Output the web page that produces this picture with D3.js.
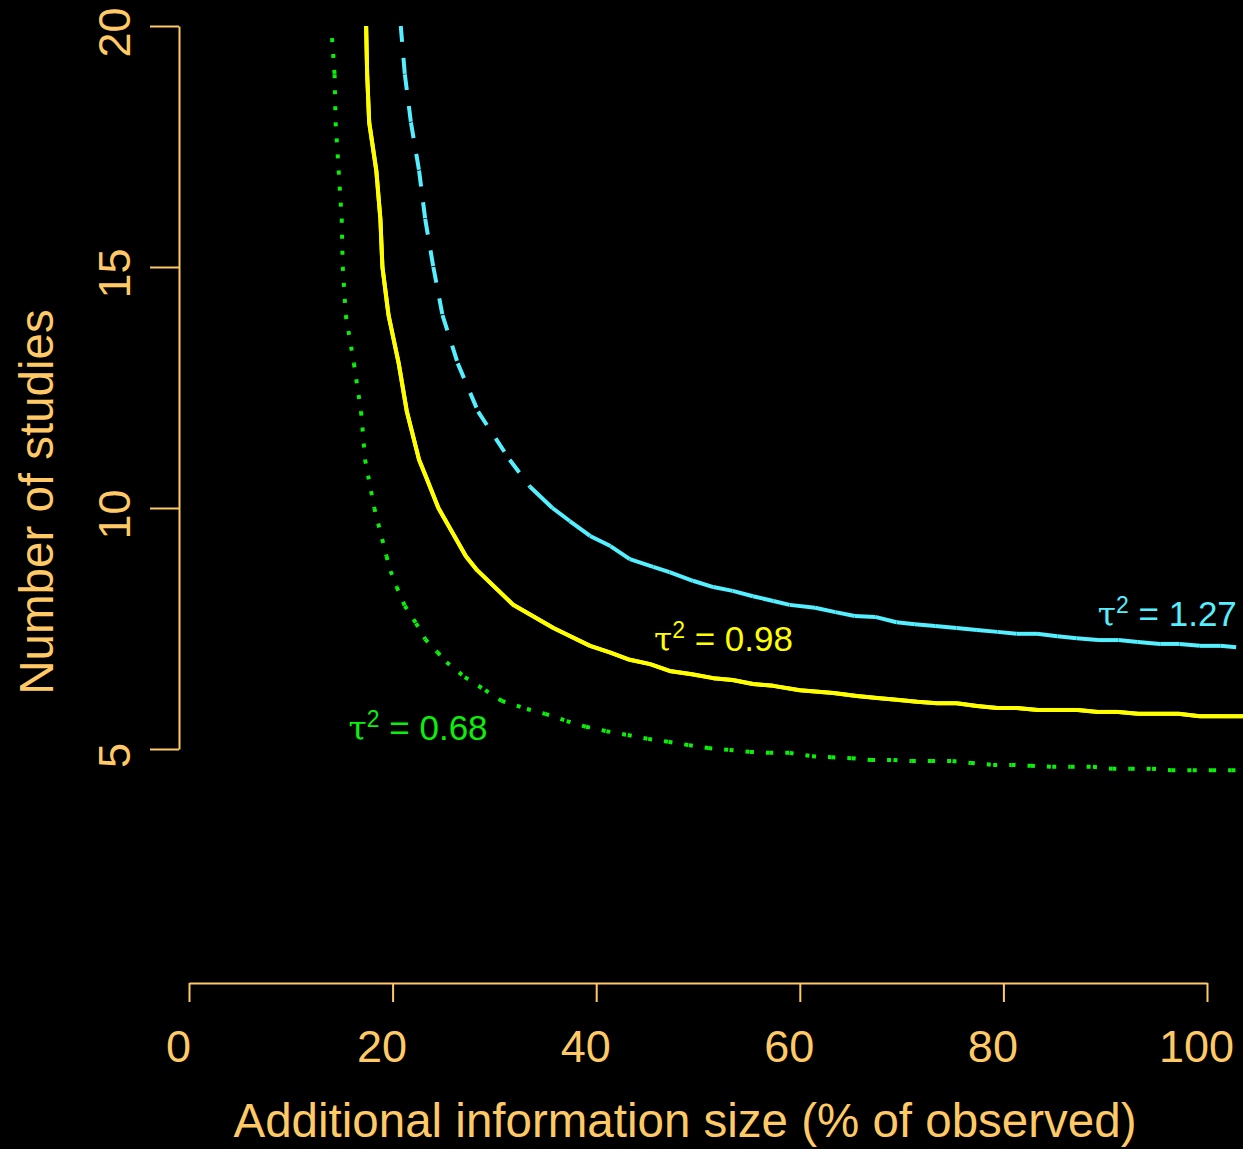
<!DOCTYPE html>
<html>
<head>
<meta charset="utf-8">
<script src="https://cdn.jsdelivr.net/npm/d3@7/dist/d3.min.js"></script>
<style>
  body { margin: 0; background: #000; }
  svg { display: block; background: #000; }
</style>
</head>
<body>
<svg id="chart" width="1243" height="1149"></svg>
<script>
// tick labels
var xTicks = [0, 20, 40, 60, 80, 100];
var yTicks = [5, 10, 15, 20];

// heterogeneity values of the three curves
var tauValues = ["0.68", "0.98", "1.27"];

// tau^2 = 0.68 (green, dotted)
var sizeLow = [14.05, 14.3, 14.4, 14.7, 15.0, 15.1, 15.4, 16.2, 16.9, 17.3, 18.2, 19.4, 19.8, 20.4, 21.2, 22.3, 23.2, 24.4, 25.3, 27.1,
  29.1, 30.7, 33.2, 35.0, 37.1, 39.0, 41.0, 43.1, 45.1, 47.1, 49.1, 51.0, 53.1, 55.1, 57.0, 59.0, 61.2, 63.1, 65.1, 67.0,
  69.2, 71.0, 72.9, 75.0, 76.8, 79.0, 80.8, 82.7, 84.8, 86.6, 88.8, 90.7, 92.5, 94.6, 96.5, 98.6, 100.5, 102.4, 104.5];
var studiesLow = [19.75, 19, 18, 17, 16, 15, 14, 13, 12, 11, 10, 9, 8.69, 8.36, 7.97, 7.61, 7.28, 7.01, 6.80, 6.49,
  6.22, 6.00, 5.83, 5.73, 5.58, 5.46, 5.37, 5.29, 5.21, 5.15, 5.08, 5.02, 4.98, 4.94, 4.92, 4.92, 4.85, 4.83, 4.81, 4.77,
  4.77, 4.75, 4.75, 4.75, 4.71, 4.67, 4.67, 4.65, 4.63, 4.63, 4.63, 4.59, 4.59, 4.59, 4.56, 4.56, 4.56, 4.56, 4.56];

// tau^2 = 0.98 (yellow, solid)
var sizeMid = [17.4, 17.5, 17.7, 18.4, 18.8, 19.0, 19.6, 20.6, 21.4, 22.6, 23.3, 24.5, 27.2, 28.3, 31.8, 35.8, 39.4, 41.4, 43.3, 45.3,
  47.2, 49.4, 51.5, 53.4, 55.4, 57.4, 60.0, 63.3, 65.6, 67.6, 69.5, 71.5, 73.5, 75.4, 77.4, 79.4, 81.3, 83.4, 85.4, 87.3,
  89.3, 91.3, 93.2, 95.2, 97.2, 99.3, 101.3, 104.5];
var studiesMid = [20, 19, 18, 17, 16, 15, 14, 13, 12, 11, 10.64, 10, 9, 8.71, 8, 7.51, 7.14, 7.0, 6.85, 6.76,
  6.62, 6.55, 6.47, 6.43, 6.35, 6.31, 6.22, 6.16, 6.10, 6.06, 6.02, 5.98, 5.95, 5.95, 5.89, 5.85, 5.85, 5.81, 5.81, 5.81,
  5.77, 5.77, 5.73, 5.73, 5.73, 5.68, 5.68, 5.68];

// tau^2 = 1.27 (cyan, dashed)
var sizeHigh = [20.8, 21.2, 21.8, 22.6, 23.2, 24.0, 24.9, 26.4, 28.4, 31.5, 33.5, 35.7, 37.4, 39.4, 41.4, 43.3, 45.6, 47.2, 49.5, 51.5,
  53.4, 55.4, 57.4, 59.0, 61.5, 63.5, 65.4, 67.4, 69.5, 71.3, 73.3, 75.4, 77.4, 79.4, 81.3, 83.3, 85.3, 87.2, 89.3, 91.3,
  93.2, 95.4, 97.3, 99.3, 101.3, 104.5];
var studiesHigh = [20, 19, 18, 17, 16, 15, 14, 13, 12, 11, 10.44, 10, 9.73, 9.42, 9.21, 8.94, 8.78, 8.67, 8.49, 8.36,
  8.28, 8.17, 8.07, 7.99, 7.93, 7.84, 7.76, 7.74, 7.63, 7.59, 7.55, 7.51, 7.47, 7.43, 7.39, 7.39, 7.34, 7.30, 7.26, 7.26,
  7.22, 7.18, 7.18, 7.14, 7.14, 7.08];

var axisCol = "#FFC966";
var svg = d3.select("#chart");

var x = d3.scaleLinear().domain([0, 100]).range([189, 1207]);
var y = d3.scaleLinear().domain([5, 20]).range([749, 26]);

var series = [
  {xs: sizeLow, ys: studiesLow, col: "#0BF00B", dash: [4, 12], tau: tauValues[0], lx: 22.5, ly: 5.19},
  {xs: sizeMid, ys: studiesMid, col: "#FFFF00", dash: null, tau: tauValues[1], lx: 52.5, ly: 7.03},
  {xs: sizeHigh, ys: studiesHigh, col: "#55F0FF", dash: [16, 16], solidShort: true, tau: tauValues[2], lx: 96.1, ly: 7.55}
];

// axes
var xAxis = svg.append("g")
  .attr("transform", "translate(0,983)")
  .call(d3.axisBottom(x).tickValues(xTicks).tickSize(19).tickSizeOuter(0).tickFormat(d3.format("d")));
var yAxis = svg.append("g")
  .attr("transform", "translate(179,0)")
  .call(d3.axisLeft(y).tickValues(yTicks).tickSize(29).tickSizeOuter(0).tickFormat(d3.format("d")));

[xAxis, yAxis].forEach(function(g){
  g.selectAll("path, line").attr("stroke", axisCol).attr("stroke-width", 2);
  g.selectAll("text").attr("fill", axisCol)
    .style("font-family", "Liberation Sans, Arial, sans-serif").style("font-size", "45px");
});
xAxis.selectAll("text").attr("y", 79).attr("dy", null).attr("x", -11);
yAxis.selectAll("text")
  .attr("transform", "rotate(-90)")
  .attr("text-anchor", "middle")
  .attr("x", -6).attr("y", -49).attr("dy", null);

svg.append("text")
  .attr("x", 685).attr("y", 1137)
  .attr("text-anchor", "middle")
  .attr("fill", axisCol)
  .style("font-family", "Liberation Sans, Arial, sans-serif").style("font-size", "47.5px")
  .text("Additional information size (% of observed)");

svg.append("text")
  .attr("transform", "translate(53,502) rotate(-90)")
  .attr("text-anchor", "middle")
  .attr("fill", axisCol)
  .style("font-family", "Liberation Sans, Arial, sans-serif").style("font-size", "47.5px")
  .text("Number of studies");

// curves: each segment drawn on its own so the dash pattern restarts at every vertex
series.forEach(function(s){
  var pts = s.xs.map(function(v, i){ return [x(v), y(s.ys[i])]; });
  var segs = d3.pairs(pts);
  var g = svg.append("g");
  g.selectAll("line").data(segs).enter().append("line")
    .attr("x1", function(d){ return d[0][0]; })
    .attr("y1", function(d){ return d[0][1]; })
    .attr("x2", function(d){ return d[1][0]; })
    .attr("y2", function(d){ return d[1][1]; })
    .attr("stroke", s.col)
    .attr("stroke-width", 4)
    .attr("stroke-linecap", "butt")
    .attr("stroke-dasharray", function(d){
      if (!s.dash) return null;
      var len = Math.hypot(d[1][0] - d[0][0], d[1][1] - d[0][1]);
      if (s.solidShort && len < s.dash[0] + s.dash[1]) return null;
      return s.dash.join(",");
    });
  // joins for solid curve
  if (!s.dash) {
    g.append("path")
      .attr("d", d3.line()(pts))
      .attr("fill", "none")
      .attr("stroke", s.col)
      .attr("stroke-width", 4)
      .attr("stroke-linejoin", "round");
  }

  var t = svg.append("text")
    .attr("x", x(s.lx)).attr("y", y(s.ly))
    .attr("text-anchor", "middle")
    .attr("fill", s.col)
    .style("font-family", "Liberation Sans, Arial, sans-serif")
    .style("font-size", "35px");
  t.append("tspan").style("font-family", "DejaVu Serif, Liberation Serif, serif").style("font-size", "33px").text("\u03C4");
  t.append("tspan").attr("dy", -13).style("font-size", "23px").text("2");
  t.append("tspan").attr("dy", 13).text(" = " + s.tau);
});
</script>
</body>
</html>
